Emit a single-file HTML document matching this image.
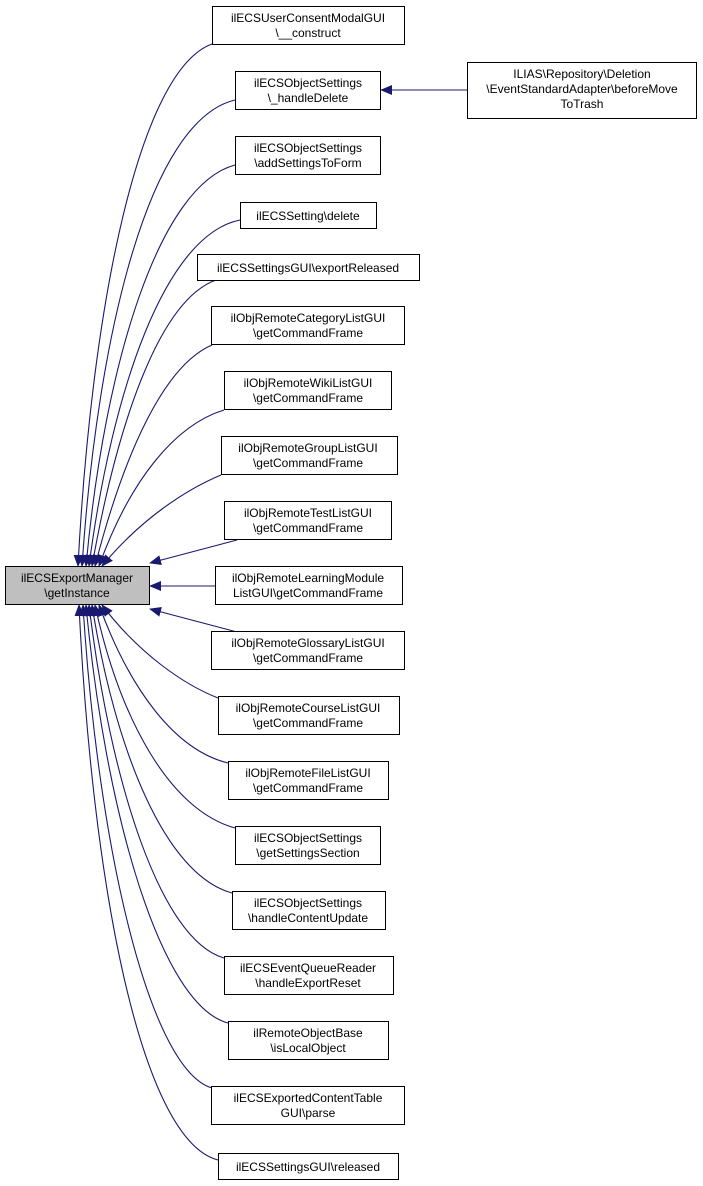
<!DOCTYPE html>
<html><head><meta charset="utf-8"><style>
body{margin:0;background:#fff}
svg{display:block}
text{font-family:"Liberation Sans",sans-serif;font-size:12px;fill:#000}
</style></head><body>
<svg width="703" height="1186" viewBox="0 0 703 1186" xmlns="http://www.w3.org/2000/svg">
<defs><marker id="a" markerWidth="12" markerHeight="10" refX="11" refY="5" orient="auto" markerUnits="userSpaceOnUse"><path d="M0,0 L12,5 L0,10 z" fill="#191970"/></marker></defs>
<g fill="none" stroke="#191970" stroke-width="1.1" marker-end="url(#a)">
<path d="M212,44 C140,70 92,300 78,566"/>
<path d="M235,100 C150,120 98,330 82,566"/>
<path d="M235,165 C160,185 105,360 86,566"/>
<path d="M240,220 C165,235 112,390 89,566"/>
<path d="M216,280 C160,300 118,420 92,566"/>
<path d="M212,345 C165,365 125,450 95,566"/>
<path d="M224,410 C175,425 130,480 99,566"/>
<path d="M221,475 C185,490 140,520 102,566"/>
<path d="M237,540 L150,563"/>
<path d="M215,586 L150,586"/>
<path d="M237,632 L150,609"/>
<path d="M218,698 C185,685 140,655 102,605"/>
<path d="M228,763 C175,750 130,690 99,605"/>
<path d="M235,828 C170,810 120,720 95,605"/>
<path d="M232,893 C165,875 115,750 92,605"/>
<path d="M224,958 C160,940 110,780 89,605"/>
<path d="M228,1023 C160,1005 105,810 86,605"/>
<path d="M212,1088 C150,1070 98,850 83,605"/>
<path d="M218,1160 C140,1140 92,880 79,605"/>
<path d="M467,90 L381,90"/>
</g>
<g fill="#fff" stroke="#000" stroke-width="1">
<rect x="5.5" y="566.5" width="144" height="38" fill="#bfbfbf"/>
<rect x="212.5" y="6.5" width="192" height="38"/>
<rect x="235.5" y="71.5" width="145" height="38"/>
<rect x="467.5" y="62.5" width="229" height="56"/>
<rect x="235.5" y="136.5" width="145" height="38"/>
<rect x="240.5" y="202.5" width="136" height="26"/>
<rect x="197.5" y="254.5" width="222" height="26"/>
<rect x="211.5" y="306.5" width="193" height="38"/>
<rect x="224.5" y="371.5" width="167" height="38"/>
<rect x="221.5" y="436.5" width="176" height="38"/>
<rect x="224.5" y="501.5" width="167" height="38"/>
<rect x="215.5" y="566.5" width="187" height="38"/>
<rect x="211.5" y="631.5" width="193" height="38"/>
<rect x="218.5" y="696.5" width="181" height="38"/>
<rect x="228.5" y="761.5" width="160" height="38"/>
<rect x="235.5" y="826.5" width="145" height="38"/>
<rect x="232.5" y="891.5" width="153" height="38"/>
<rect x="224.5" y="956.5" width="169" height="38"/>
<rect x="228.5" y="1021.5" width="160" height="38"/>
<rect x="211.5" y="1086.5" width="193" height="38"/>
<rect x="218.5" y="1153.5" width="180" height="26"/>
</g>
<g text-anchor="middle">
<text x="77" y="582">ilECSExportManager</text><text x="77" y="597">\getInstance</text>
<text x="308" y="22">ilECSUserConsentModalGUI</text><text x="308" y="37">\__construct</text>
<text x="308" y="87">ilECSObjectSettings</text><text x="308" y="102">\_handleDelete</text>
<text x="582" y="78">ILIAS\Repository\Deletion</text><text x="582" y="93">\EventStandardAdapter\beforeMove</text><text x="582" y="108">ToTrash</text>
<text x="308" y="152">ilECSObjectSettings</text><text x="308" y="167">\addSettingsToForm</text>
<text x="308" y="220">ilECSSetting\delete</text>
<text x="308" y="272">ilECSSettingsGUI\exportReleased</text>
<text x="308" y="322">ilObjRemoteCategoryListGUI</text><text x="308" y="337">\getCommandFrame</text>
<text x="308" y="387">ilObjRemoteWikiListGUI</text><text x="308" y="402">\getCommandFrame</text>
<text x="308" y="452">ilObjRemoteGroupListGUI</text><text x="308" y="467">\getCommandFrame</text>
<text x="308" y="517">ilObjRemoteTestListGUI</text><text x="308" y="532">\getCommandFrame</text>
<text x="308" y="582">ilObjRemoteLearningModule</text><text x="308" y="597">ListGUI\getCommandFrame</text>
<text x="308" y="647">ilObjRemoteGlossaryListGUI</text><text x="308" y="662">\getCommandFrame</text>
<text x="308" y="712">ilObjRemoteCourseListGUI</text><text x="308" y="727">\getCommandFrame</text>
<text x="308" y="777">ilObjRemoteFileListGUI</text><text x="308" y="792">\getCommandFrame</text>
<text x="308" y="842">ilECSObjectSettings</text><text x="308" y="857">\getSettingsSection</text>
<text x="308" y="907">ilECSObjectSettings</text><text x="308" y="922">\handleContentUpdate</text>
<text x="308" y="972">ilECSEventQueueReader</text><text x="308" y="987">\handleExportReset</text>
<text x="308" y="1037">ilRemoteObjectBase</text><text x="308" y="1052">\isLocalObject</text>
<text x="308" y="1102">ilECSExportedContentTable</text><text x="308" y="1117">GUI\parse</text>
<text x="308" y="1171">ilECSSettingsGUI\released</text>
</g>
</svg>
</body></html>
